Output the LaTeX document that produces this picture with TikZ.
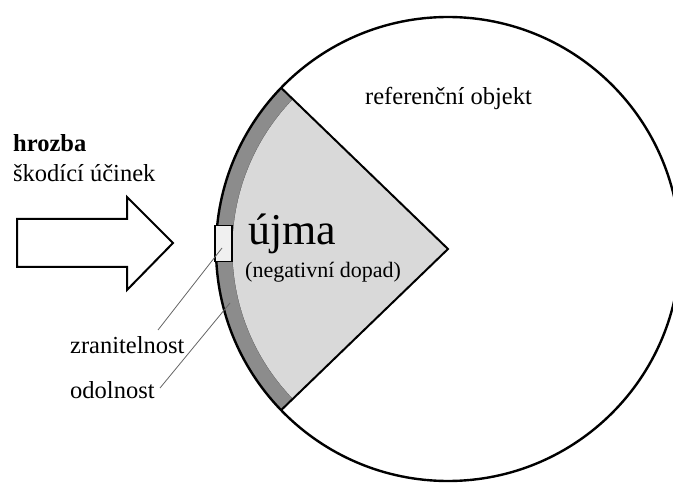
\documentclass[tikz,border=0pt]{standalone}
\usepackage{fontspec}
\setmainfont{Liberation Serif}
\usetikzlibrary{positioning}

\definecolor{bandgray}{gray}{0.55}
\definecolor{harmgray}{gray}{0.85}
\definecolor{boxgray}{gray}{0.94}

\begin{document}
\begin{tikzpicture}[x=1pt,y=-1pt]
        \tikzstyle{every node}+=[inner sep=0pt]
        \tikzstyle{lbl}=[anchor=base west,font=\fontsize{24.5}{28}\selectfont]
        \tikzstyle{leader}=[draw=black!60,line width=0.8pt]
        \useasboundingbox (0,0) rectangle (673,484);
        % referenční objekt, odolnost a újma
        \begin{scope}[shift={(448,249)}]
        \fill [bandgray] (136:232) arc [start angle=136,end angle=224,radius=232] -- (224:215.5) arc [start angle=224,end angle=136,radius=215.5] -- cycle;
        \draw [black!70,line width=0.6pt] (136:215.5) arc [start angle=136,end angle=224,radius=215.5];
        \fill [harmgray] (0,0) -- (136:215.5) arc [start angle=136,end angle=224,radius=215.5] -- cycle;
        \draw [black,line width=2pt] (136:232) -- (0,0) -- (224:232);
        \draw [black,line width=2.4pt] (0,0) circle (232);
        \end{scope}
        \node [draw=black,line width=1.6pt,fill=boxgray,minimum width=17pt,minimum height=36pt] (weak) at (223.5,243.5) {};
        % hrozba
        \draw [black,line width=2pt,fill=white] (17,219) -- (127,219) -- (127,197) -- (173,243) -- (127,290) -- (127,267) -- (17,267) -- cycle;
        \node [lbl,font=\bfseries\fontsize{24.5}{28}\selectfont] (threat) at (13,152) {hrozba};
        \node [lbl] (effect) at (13,182) {škodící účinek};
        \node [lbl] (refobj) at (365,105) {referenční objekt};
        \node [lbl,font=\fontsize{44}{48}\selectfont] (harm) at (248,245) {újma};
        \node [lbl,font=\fontsize{22}{26}\selectfont] (impact) at (245,278) {(negativní dopad)};
        \node [lbl] (vuln) at (70,353) {zranitelnost};
        \node [lbl] (resil) at (70,398) {odolnost};
        \coordinate (vulnpt) at (222,248);
        \coordinate (vulnend) at (158,330);
        \coordinate (resilpt) at (230,303);
        \coordinate (resilend) at (160,388);
        \draw [leader] (vulnpt) -- (vulnend);
        \draw [leader] (resilpt) -- (resilend);
\end{tikzpicture}
\end{document}
